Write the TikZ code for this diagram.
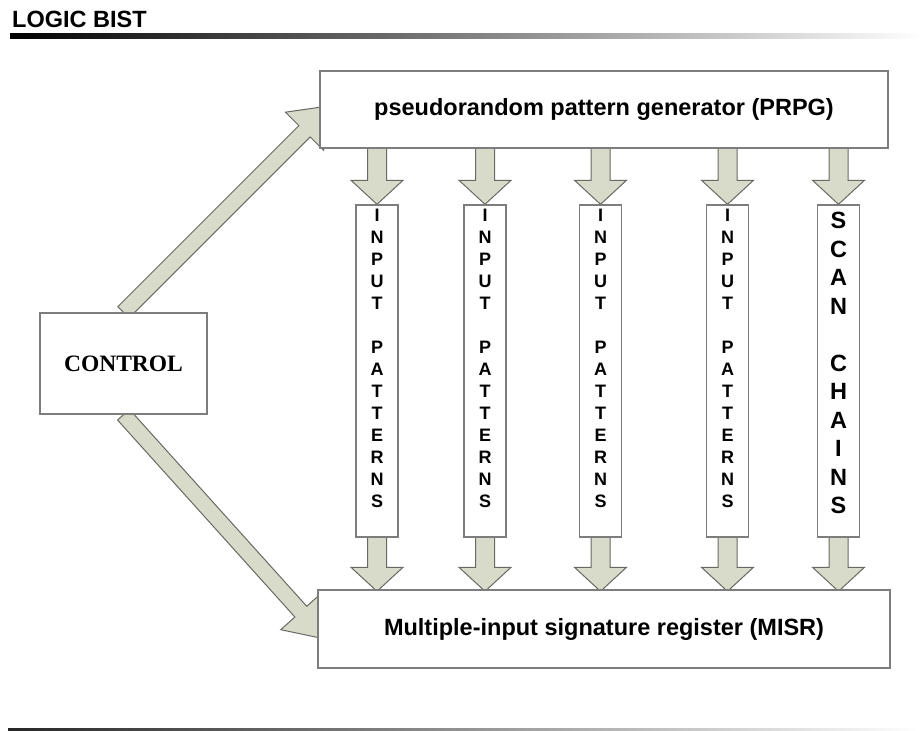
\documentclass[tikz,border=0pt]{standalone}
\usepackage{fontspec}
\setmainfont{Liberation Sans}
\newfontfamily\timesb{Liberation Serif}
\usetikzlibrary{calc}
\pgfdeclarelayer{bg}
\pgfsetlayers{bg,main}
\definecolor{arrowfill}{RGB}{216,219,201}
\definecolor{arrowline}{RGB}{105,105,100}
\definecolor{boxline}{RGB}{125,125,125}
\newcommand\blkdown[2]{\draw[blk] let \p1=(#1), \p2=(#2) in
  (\x1-9.5pt,\y1) -- (\x1+9.5pt,\y1) -- (\x1+9.5pt,\y2+24pt) -- (\x1+26pt,\y2+24pt)
  -- (\x1,\y2) -- (\x1-26pt,\y2+24pt) -- (\x1-9.5pt,\y2+24pt) -- cycle;}
\begin{document}
\begin{tikzpicture}[x=1pt,y=-1pt,
  box/.style={draw=boxline, line width=1.4pt, fill=white, inner sep=0pt},
  blk/.style={draw=arrowline, line width=1pt, fill=arrowfill, line join=miter},
  title/.style={font=\fontsize{23.5}{28}\selectfont\bfseries},
  letter/.style={font=\fontsize{18}{18}\selectfont\bfseries, inner sep=0pt, text height=12.9pt, text depth=0pt},
  bigletter/.style={font=\fontsize{23.5}{24}\selectfont\bfseries, inner sep=0pt, text height=16.8pt, text depth=0pt}]
\useasboundingbox (0,0) rectangle (922,731);

% header
\node[anchor=base west, title, inner sep=0pt] (hdr) at (12,27) {LOGIC BIST};
\shade[left color=black, middle color=black!45, right color=white] (10,33) rectangle (922,38);
% footer line
\shade[left color=black!85, middle color=black!40, right color=white] (8,728) rectangle (922,731);

% boxes
\node[box, title, minimum width=568, minimum height=77] (prpg) at (604,109.5) {pseudorandom pattern generator (PRPG)};
\node[box, title, minimum width=572, minimum height=78] (misr) at (604,629) {Multiple-input signature register (MISR)};
\node[box, font=\timesb\fontsize{23.5}{28}\selectfont\bfseries, minimum width=167, minimum height=101] (ctrl) at (123.5,363.5) {CONTROL};

\node[box, minimum width=42, minimum height=332] (c1) at (377,371) {};
\node[box, minimum width=42, minimum height=332] (c2) at (485,371) {};
\node[box, minimum width=42, minimum height=332] (c3) at (600.5,371) {};
\node[box, minimum width=42, minimum height=332] (c4) at (727.5,371) {};
\node[box, minimum width=42, minimum height=332] (c5) at (838.5,371) {};

% column letters
\foreach \c in {c1,c2,c3,c4} {
  \foreach \ch [count=\k from 0] in {I,N,P,U,T,{},P,A,T,T,E,R,N,S}
    \node[letter] (\c-\k) at ($(\c.north)+(0,11+22*\k)$) {\ch};
}
\foreach \ch [count=\k from 0] in {S,C,A,N,{},C,H,A,I,N,S}
  \node[bigletter] (c5-\k) at ($(c5.north)+(0,16+28.5*\k)$) {\ch};

% block arrows
\begin{pgfonlayer}{bg}
  \fill[white] (0,0) rectangle (922,731);
  \foreach \c in {c1,c2,c3,c4,c5} {
    \blkdown{$(prpg.south -| \c.north)+(0,-3)$}{\c.north}
    \blkdown{$(\c.south)+(0,-2)$}{$(misr.north -| \c.south)+(0,2)$}
  }
  \begin{scope}[shift={(ctrl.north)}, rotate=45]
    \draw[blk] (0,-8) -- (256,-8) -- (256,-27) -- (292,0) -- (256,27) -- (256,8) -- (0,8) -- cycle;
  \end{scope}
  \begin{scope}[shift={(ctrl.south)}, rotate=-48]
    \draw[blk] (0,-8) -- (265,-8) -- (265,-27) -- (302,0) -- (265,27) -- (265,8) -- (0,8) -- cycle;
  \end{scope}
\end{pgfonlayer}
\end{tikzpicture}
\end{document}
